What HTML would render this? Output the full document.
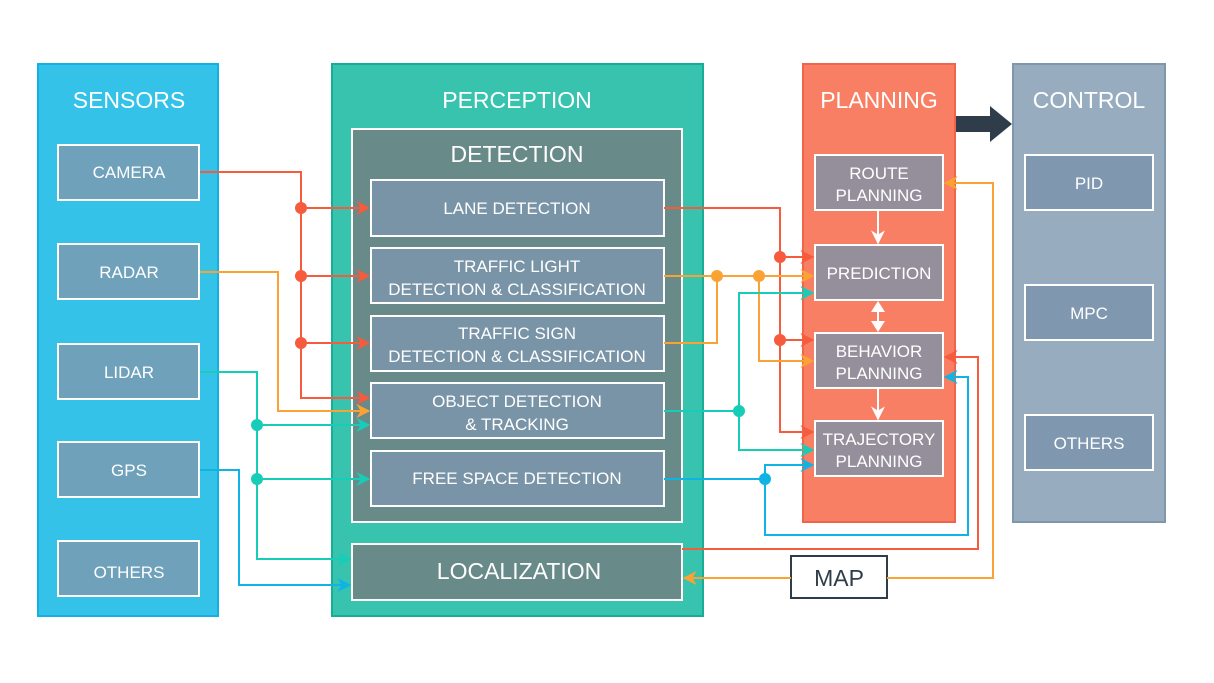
<!DOCTYPE html>
<html><head><meta charset="utf-8"><style>
html,body{margin:0;padding:0;background:#fff;}
svg{display:block;}
text{font-family:"Liberation Sans",sans-serif;fill:#fff;text-anchor:middle;}
</style></head><body>
<svg width="1214" height="683" viewBox="0 0 1214 683" xmlns="http://www.w3.org/2000/svg">
<defs>
<marker id="ar" viewBox="0 0 10 10" refX="9" refY="5" markerWidth="7" markerHeight="7" orient="auto"><path d="M0,0 L10,5 L0,10 L3,5z" fill="#f55b3c"/></marker>
<marker id="ao" viewBox="0 0 10 10" refX="9" refY="5" markerWidth="7" markerHeight="7" orient="auto"><path d="M0,0 L10,5 L0,10 L3,5z" fill="#fba234"/></marker>
<marker id="at" viewBox="0 0 10 10" refX="9" refY="5" markerWidth="7" markerHeight="7" orient="auto"><path d="M0,0 L10,5 L0,10 L3,5z" fill="#17cdb8"/></marker>
<marker id="ab" viewBox="0 0 10 10" refX="9" refY="5" markerWidth="7" markerHeight="7" orient="auto"><path d="M0,0 L10,5 L0,10 L3,5z" fill="#0fb4e4"/></marker>
<marker id="aw" viewBox="0 0 10 10" refX="9" refY="5" markerWidth="7" markerHeight="7" orient="auto"><path d="M0,0 L10,5 L0,10 L3,5z" fill="#fff"/></marker>
</defs>

<rect x="38" y="64" width="180" height="552" fill="#35c2e8" stroke="#14b0e2" stroke-width="2"/>
<text x="129" y="108" font-size="23">SENSORS</text>
<g fill="#6fa1bb" stroke="#fff" stroke-width="2">
<rect x="58" y="145" width="141" height="55"/><rect x="58" y="244" width="141" height="55"/>
<rect x="58" y="344" width="141" height="55"/><rect x="58" y="442" width="141" height="55"/>
<rect x="58" y="541" width="141" height="55"/></g>
<g font-size="17"><text x="129" y="178">CAMERA</text><text x="129" y="278">RADAR</text><text x="129" y="378">LIDAR</text><text x="129" y="476">GPS</text><text x="129" y="578">OTHERS</text></g>

<rect x="332" y="64" width="371" height="552" fill="#38c3ae" stroke="#16ae97" stroke-width="2"/>
<text x="517" y="108" font-size="23">PERCEPTION</text>
<rect x="352" y="129" width="330" height="393" fill="#688a89" stroke="#fff" stroke-width="2"/>
<text x="517" y="162" font-size="23">DETECTION</text>
<g fill="#7994a7" stroke="#fff" stroke-width="2">
<rect x="371" y="180" width="293" height="56"/><rect x="371" y="248" width="293" height="55"/>
<rect x="371" y="316" width="293" height="55"/><rect x="371" y="383" width="293" height="55"/>
<rect x="371" y="451" width="293" height="55"/></g>
<g font-size="17"><text x="517" y="214">LANE DETECTION</text>
<text x="517" y="272">TRAFFIC LIGHT</text><text x="517" y="295">DETECTION &amp; CLASSIFICATION</text>
<text x="517" y="339">TRAFFIC SIGN</text><text x="517" y="362">DETECTION &amp; CLASSIFICATION</text>
<text x="517" y="407">OBJECT DETECTION</text><text x="517" y="430">&amp; TRACKING</text>
<text x="517" y="484">FREE SPACE DETECTION</text></g>
<rect x="352" y="544" width="330" height="56" fill="#688a89" stroke="#fff" stroke-width="2"/>
<text x="519" y="579" font-size="23">LOCALIZATION</text>

<rect x="803" y="64" width="152" height="458" fill="#f97f64" stroke="#f0654a" stroke-width="2"/>
<text x="879" y="108" font-size="23">PLANNING</text>
<g fill="#948f9b" stroke="#fff" stroke-width="2">
<rect x="815" y="155" width="128" height="55"/><rect x="815" y="245" width="128" height="55"/>
<rect x="815" y="333" width="128" height="55"/><rect x="815" y="421" width="128" height="55"/></g>
<g font-size="17"><text x="879" y="179">ROUTE</text><text x="879" y="201">PLANNING</text>
<text x="879" y="279">PREDICTION</text>
<text x="879" y="357">BEHAVIOR</text><text x="879" y="379">PLANNING</text>
<text x="879" y="445">TRAJECTORY</text><text x="879" y="467">PLANNING</text></g>
<g stroke="#fff" stroke-width="2" fill="none">
<line x1="878" y1="211" x2="878" y2="243" marker-end="url(#aw)"/>
<line x1="878" y1="389" x2="878" y2="419" marker-end="url(#aw)"/></g>
<path d="M878,301 l-7,11 h14z M878,332 l-7,-11 h14z" fill="#fff"/>
<line x1="878" y1="308" x2="878" y2="325" stroke="#fff" stroke-width="2"/>

<rect x="1013" y="64" width="152" height="458" fill="#97adbf" stroke="#7f97ab" stroke-width="2"/>
<text x="1089" y="108" font-size="23">CONTROL</text>
<g fill="#7f98af" stroke="#fff" stroke-width="2">
<rect x="1025" y="155" width="128" height="55"/><rect x="1025" y="285" width="128" height="55"/><rect x="1025" y="415" width="128" height="55"/></g>
<g font-size="17"><text x="1089" y="189">PID</text><text x="1089" y="319">MPC</text><text x="1089" y="449">OTHERS</text></g>
<path d="M956,116 h34 v-10 l22,18 l-22,18 v-10 h-34z" fill="#2f3d4a"/>

<rect x="791" y="556" width="96" height="42" fill="#fff" stroke="#2f3d4a" stroke-width="2"/>
<text x="839" y="586" font-size="23" style="fill:#2f3d4a">MAP</text>

<g fill="none" stroke-width="2">
<path d="M200,172 H301 V398 H369" stroke="#f55b3c" marker-end="url(#ar)"/>
<path d="M301,208 H369" stroke="#f55b3c" marker-end="url(#ar)"/>
<path d="M301,276 H369" stroke="#f55b3c" marker-end="url(#ar)"/>
<path d="M301,343 H369" stroke="#f55b3c" marker-end="url(#ar)"/>
<path d="M200,272 H278 V411 H369" stroke="#fba234" marker-end="url(#ao)"/>
<path d="M200,372 H257 V559 H350" stroke="#17cdb8" marker-end="url(#at)"/>
<path d="M257,425 H369" stroke="#17cdb8" marker-end="url(#at)"/>
<path d="M257,479 H369" stroke="#17cdb8" marker-end="url(#at)"/>
<path d="M200,470 H239 V585 H350" stroke="#0fb4e4" marker-end="url(#ab)"/>

<path d="M664,208 H780 V432 H813" stroke="#f55b3c" marker-end="url(#ar)"/>
<path d="M780,257 H813" stroke="#f55b3c" marker-end="url(#ar)"/>
<path d="M780,340 H813" stroke="#f55b3c" marker-end="url(#ar)"/>
<path d="M664,276 H813" stroke="#fba234" marker-end="url(#ao)"/>
<path d="M717,276 V343 H664" stroke="#fba234"/>
<path d="M759,276 V361 H813" stroke="#fba234" marker-end="url(#ao)"/>
<path d="M664,411 H739 V293 H813" stroke="#17cdb8" marker-end="url(#at)"/>
<path d="M739,411 V450 H813" stroke="#17cdb8" marker-end="url(#at)"/>
<path d="M664,479 H765 V465 H813" stroke="#0fb4e4" marker-end="url(#ab)"/>
<path d="M765,479 V535 H968 V377 H945" stroke="#0fb4e4" marker-end="url(#ab)"/>
<path d="M682,549 H978 V357 H945" stroke="#f55b3c" marker-end="url(#ar)"/>
<path d="M887,578 H993 V183 H945" stroke="#fba234" marker-end="url(#ao)"/>
<path d="M791,578 H684" stroke="#fba234" marker-end="url(#ao)"/>
</g>
<g>
<circle cx="301" cy="208" r="6" fill="#f55b3c"/><circle cx="301" cy="276" r="6" fill="#f55b3c"/><circle cx="301" cy="343" r="6" fill="#f55b3c"/>
<circle cx="257" cy="425" r="6" fill="#17cdb8"/><circle cx="257" cy="479" r="6" fill="#17cdb8"/>
<circle cx="780" cy="257" r="6" fill="#f55b3c"/><circle cx="780" cy="340" r="6" fill="#f55b3c"/>
<circle cx="717" cy="276" r="6" fill="#fba234"/><circle cx="759" cy="276" r="6" fill="#fba234"/>
<circle cx="739" cy="411" r="6" fill="#17cdb8"/><circle cx="765" cy="479" r="6" fill="#0fb4e4"/>
</g>
</svg>
</body></html>
